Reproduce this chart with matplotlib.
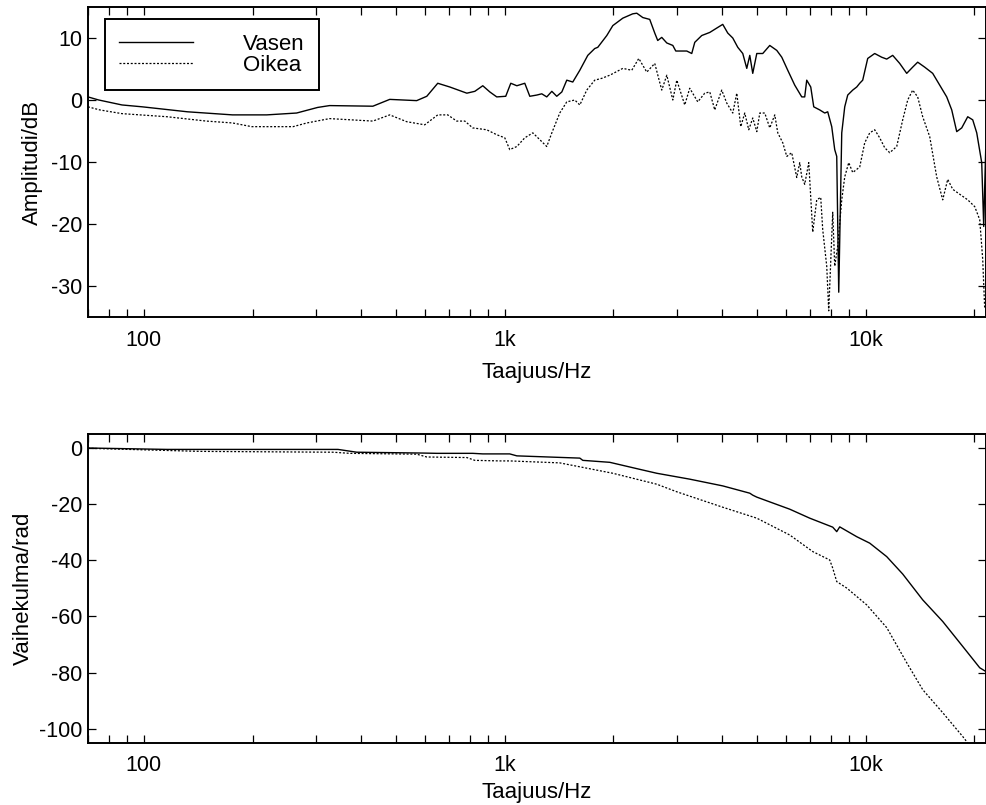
import matplotlib
matplotlib.use("Agg")
import matplotlib.pyplot as plt
from matplotlib.ticker import FixedLocator, FixedFormatter, NullFormatter
from matplotlib.lines import Line2D

plt.rcParams['font.family'] = ['Liberation Sans', 'DejaVu Sans']
plt.rcParams['axes.unicode_minus'] = False

# --- amplitude response (dB) ---
amp_left_f = [70, 75, 87, 99, 132, 176, 219, 265, 303, 327, 431, 480, 570, 608, 652,
              704, 785, 826, 869, 909, 950, 1006, 1039, 1080, 1136, 1173, 1227, 1266, 1307,
              1350, 1393, 1439, 1485, 1543, 1614, 1698, 1775, 1810, 1917, 1992, 2123, 2262,
              2321, 2412, 2521, 2603, 2653, 2722, 2811, 2921, 2977, 3193, 3296, 3360, 3513,
              3698, 3890, 4017, 4147, 4282, 4421, 4564, 4682, 4773, 4864, 4991, 5185, 5422,
              5670, 5854, 6081, 6358, 6649, 6776, 6864, 7042, 7178, 7457, 7699, 7847, 8051,
              8206, 8312, 8419, 8582, 8747, 8916, 9205, 9443, 9625, 9810, 10128, 10590,
              11074, 11433, 11879, 12421, 12989, 13494, 13931, 14568, 15331, 16032, 16766,
              17311, 17871, 18450, 19170, 19793, 20305, 20960, 21230, 21364, 21500]
amp_left_db = [0.5, 0.0, -0.8, -1.1, -1.9, -2.4, -2.4, -2.1, -1.2, -0.9, -1.0, 0.1, -0.1, 0.6, 2.7,
               2.1, 1.1, 1.4, 2.3, 1.3, 0.5, 0.6, 2.7, 2.3, 2.7, 0.6, 0.8, 1.0, 0.5,
               1.4, 0.6, 1.3, 3.2, 2.9, 4.8, 7.2, 8.3, 8.5, 10.4, 12.0, 13.2, 13.9,
               14.0, 13.3, 13.0, 10.8, 9.6, 10.1, 9.2, 8.8, 7.9, 7.9, 7.5, 9.3, 10.4,
               10.9, 11.7, 12.2, 10.8, 10.0, 8.5, 7.5, 5.1, 7.2, 4.3, 7.5, 7.5, 8.8,
               8.0, 6.9, 4.8, 2.4, 0.5, 0.5, 3.2, 2.1, -1.1, -1.6, -2.1, -1.9, -4.3,
               -8.0, -9.1, -31.0, -5.3, -1.1, 0.8, 1.6, 2.1, 2.7, 3.2, 6.7, 7.5,
               6.9, 6.6, 7.2, 5.9, 4.3, 5.3, 6.1, 5.3, 4.3, 2.4, 0.5,
               -1.6, -5.1, -4.5, -2.7, -3.2, -5.3, -10.1, -20.4, -14.0, -8.0]

amp_right_f = [70, 75.5, 87, 116, 149, 176, 199, 259, 283, 327, 431, 480, 535, 600, 652,
               695, 736, 775, 815, 891, 950, 1000, 1032, 1080, 1136, 1196, 1307, 1350, 1420,
               1485, 1563, 1614, 1687, 1775, 1857, 1954, 2123, 2248, 2351, 2474, 2603, 2722,
               2811, 2921, 2996, 3152, 3254, 3425, 3581, 3698, 3817, 3991, 4121, 4282, 4393,
               4506, 4622, 4742, 4864, 4991, 5087, 5252, 5422, 5598, 5706, 5891, 6043, 6237,
               6440, 6564, 6649, 6776, 6953, 7132, 7316, 7505, 7601, 7798, 7898, 8102, 8206,
               8365, 8582, 8747, 8973, 9205, 9625, 9936, 10259, 10590, 10934, 11288, 11654,
               12186, 12661, 13072, 13494, 13931, 14384, 15041, 15728, 16342, 16873, 17422,
               18216, 19170, 20047, 20695, 21093, 21364]
amp_right_db = [-1.1, -1.6, -2.2, -2.7, -3.4, -3.7, -4.3, -4.3, -3.7, -3.0, -3.4, -2.4, -3.5, -4.0, -2.4,
                -2.4, -3.4, -3.4, -4.5, -4.8, -5.6, -6.1, -8.0, -7.5, -6.1, -5.3, -7.5, -5.3, -2.1,
                -0.3, 0.0, -0.8, 1.6, 3.2, 3.5, 4.0, 5.1, 4.8, 6.7, 4.5, 5.9, 1.6,
                4.0, 0.0, 3.2, -0.8, 1.9, -0.3, 1.1, 1.3, -1.6, 1.6, -0.5, -2.1, 1.1,
                -4.3, -2.1, -4.8, -2.9, -5.1, -2.1, -2.1, -4.5, -2.4, -5.3, -6.9, -9.1, -8.5,
                -12.5, -10.1, -12.4, -13.6, -10.1, -21.3, -16.1, -15.7, -20.9, -26.8, -34.0, -18.1, -26.8,
                -23.6, -16.1, -12.4, -10.1, -11.7, -10.8, -6.9, -5.3, -4.8, -6.1, -7.7, -8.5,
                -7.5, -3.2, 0.0, 1.6, 0.5, -2.7, -5.9, -12.4, -16.1, -12.8, -14.4,
                -15.2, -16.1, -17.2, -19.3, -25.7, -33.7]

# --- phase response (rad) ---
ph_left_f = [70, 116, 345, 389, 593, 648, 815, 869, 969, 1032, 1080, 1614, 1645, 1954, 2366,
             2637, 3254, 4017, 4773, 4864, 4991, 5422, 6159, 6997, 8102, 8312, 8472, 9443,
             10259, 11433, 12661, 14384, 16342, 18568, 20695, 21500]
ph_left = [0.0, -0.5, -0.5, -1.5, -1.8, -1.9, -1.9, -2.1, -2.1, -2.1, -2.8, -3.6, -4.4, -5.1, -7.6,
           -9.0, -11.1, -13.5, -16.1, -16.8, -17.5, -19.2, -21.8, -25.0, -28.2, -29.8, -28.1, -31.6,
           -33.9, -38.7, -44.9, -54.1, -61.8, -70.7, -78.3, -79.6]

ph_right_f = [70, 143, 334, 372, 570, 608, 785, 826, 969, 1032, 1420, 1992, 2637, 2996, 4017,
              4991, 6159, 7132, 7948, 8102, 8312, 8860, 10064, 11433, 12989, 14384, 16342,
              18568, 19416]
ph_right = [-0.1, -1.2, -1.5, -1.9, -2.2, -3.2, -3.4, -4.4, -4.6, -4.6, -5.3, -9.0, -12.9, -15.6, -21.1,
            -25.0, -31.0, -36.9, -39.9, -42.8, -47.6, -49.9, -55.9, -64.0, -76.5, -86.1, -94.3,
            -102.8, -106.0]

major_f = [100, 1000, 10000]
major_lbl = ['100', '1k', '10k']
minor_f = [m * d for d in (10, 100, 1000, 10000) for m in range(2, 10)]

fig = plt.figure(figsize=(9.86, 8.05), dpi=100)
ax1 = fig.add_axes([0.0892, 0.6062, 0.9105, 0.3851])
ax2 = fig.add_axes([0.0892, 0.0774, 0.9105, 0.3835])

solid_kw = dict(color='black', lw=1.0, ls='-')
dot_kw = dict(color='black', lw=0.9, ls=(0, (1.6, 1.4)))

ax1.plot(amp_left_f, amp_left_db, **solid_kw)
ax1.plot(amp_right_f, amp_right_db, **dot_kw)
ax2.plot(ph_left_f, ph_left, **solid_kw)
ax2.plot(ph_right_f, ph_right, **dot_kw)

ax1.set_ylim(-35, 15)
ax1.set_yticks([-30, -20, -10, 0, 10])
ax1.set_ylabel('Amplitudi/dB', fontsize=16, labelpad=6)
ax2.set_ylim(-105, 5)
ax2.set_yticks([-100, -80, -60, -40, -20, 0])
ax2.set_ylabel('Vaihekulma/rad', fontsize=16, labelpad=4)

for ax in (ax1, ax2):
    ax.set_xscale('log')
    ax.set_xlim(70, 21500)
    ax.xaxis.set_major_locator(FixedLocator(major_f))
    ax.xaxis.set_major_formatter(FixedFormatter(major_lbl))
    ax.xaxis.set_minor_locator(FixedLocator(minor_f))
    ax.xaxis.set_minor_formatter(NullFormatter())
    ax.tick_params(which='both', direction='in', top=True, right=True,
                   length=5.8, width=0.9, labelsize=15.5)
    ax.tick_params(axis='x', which='major', pad=9)
    ax.tick_params(axis='y', which='major', pad=4)
    for s in ax.spines.values():
        s.set_linewidth(1.4)

ax1.set_xlabel('Taajuus/Hz', fontsize=16, labelpad=8)
ax2.set_xlabel('Taajuus/Hz', fontsize=16, labelpad=4)

handles = [Line2D([], [], **solid_kw), Line2D([], [], **dot_kw)]
leg = ax1.legend(handles, ['Vasen', 'Oikea'], loc='upper left',
                 bbox_to_anchor=(0.019, 0.961), borderaxespad=0, fontsize=16,
                 handlelength=3.3, handletextpad=2.25, borderpad=0.65,
                 labelspacing=0.0, fancybox=False, framealpha=1)
leg.get_frame().set_edgecolor('black')
leg.get_frame().set_linewidth(1.4)

fig.savefig('out.png', dpi=100)
